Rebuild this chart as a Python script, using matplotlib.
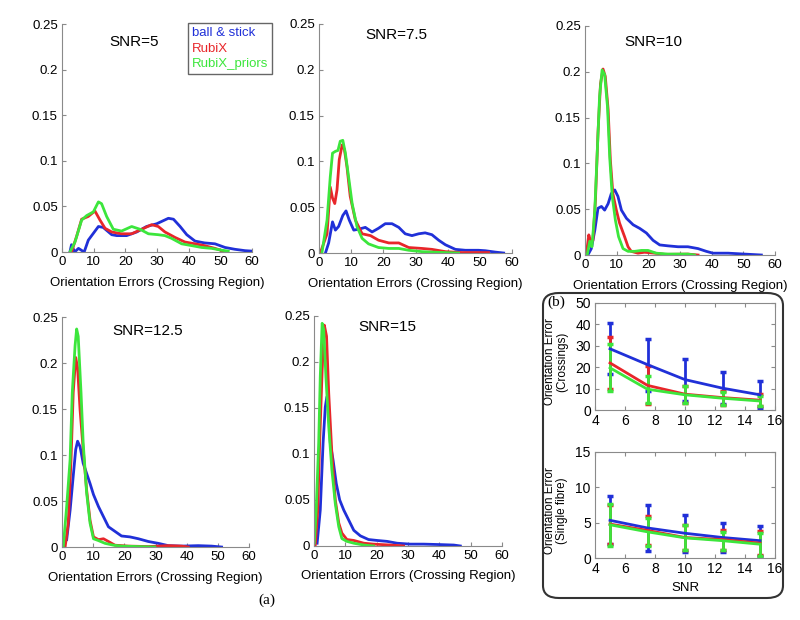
import matplotlib
matplotlib.use("Agg")
import matplotlib.pyplot as plt
from matplotlib.patches import FancyBboxPatch

plt.rcParams['font.family'] = ['Liberation Sans', 'DejaVu Sans']

# colores de las tres curvas
azul = '#2030d8'
rojo = '#e8262a'
verde = '#3ce63c'
metodos = ['ball & stick', 'RubiX', 'RubiX_priors']

# ---- histogramas de errores (grados, densidad) ----
# SNR=5
bs5_x = [2.5, 3, 4, 5.2, 7, 8.3, 11.5, 13, 15.7, 17.3, 20.4, 23.6, 26.7, 29.9, 33.6, 35.2, 37.3, 39.4, 42, 45, 48.3, 51.5, 54.6, 57.8, 60]
bs5_y = [0, 0.008, 0, 0.004, 0, 0.013, 0.028, 0.027, 0.019, 0.018, 0.018, 0.022, 0.028, 0.031, 0.037, 0.036, 0.028, 0.019, 0.012, 0.010, 0.009, 0.005, 0.003, 0.0015, 0.001]
rx5_x = [3, 4.6, 6.2, 8.3, 10.4, 12, 13.6, 15.7, 18.8, 22, 25.2, 28.3, 30.4, 32.5, 35.7, 38.8, 42, 45, 48.3, 51]
rx5_y = [0, 0.017, 0.036, 0.039, 0.045, 0.035, 0.026, 0.022, 0.020, 0.020, 0.025, 0.030, 0.028, 0.022, 0.016, 0.011, 0.009, 0.007, 0.004, 0.001]
rp5_x = [2.5, 4.1, 6.2, 7.8, 9.9, 11.5, 12.5, 14.1, 16.2, 18.8, 22, 24.6, 27.3, 30.4, 32.5, 34.6, 37.8, 41, 44.1, 47.3, 50.4, 52.5]
rp5_y = [0, 0.011, 0.035, 0.040, 0.044, 0.055, 0.053, 0.039, 0.025, 0.023, 0.028, 0.025, 0.020, 0.019, 0.018, 0.015, 0.009, 0.007, 0.005, 0.004, 0.002, 0.001]

# SNR=7.5
bs75_x = [2, 3, 4.2, 5.1, 6.1, 7.4, 8.4, 9.4, 10.8, 12.3, 14.4, 16.5, 18.5, 20.6, 22.7, 24.8, 26.8, 28.9, 31, 33, 35.1, 37.2, 39.3, 42.4, 45.5, 49.6, 51.7, 54.8, 57.4]
bs75_y = [0, 0.011, 0.034, 0.025, 0.029, 0.041, 0.046, 0.036, 0.025, 0.026, 0.028, 0.023, 0.027, 0.032, 0.032, 0.028, 0.021, 0.019, 0.021, 0.022, 0.020, 0.014, 0.009, 0.004, 0.003, 0.003, 0.0025, 0.001, 0]
rx75_x = [0.4, 2.5, 3.5, 4.2, 4.9, 5.6, 6.3, 7.2, 7.9, 8.7, 9.7, 11.3, 13.4, 16, 18.5, 21.7, 24.8, 27.9, 32, 35.1, 39.3, 44.5, 52.7]
rx75_y = [0, 0.021, 0.072, 0.060, 0.054, 0.069, 0.102, 0.118, 0.113, 0.094, 0.062, 0.036, 0.021, 0.019, 0.014, 0.011, 0.011, 0.006, 0.005, 0.004, 0.0015, 0.0005, 0.0005]
rp75_x = [0.9, 2.5, 3.5, 4.2, 5.1, 5.9, 6.6, 7.4, 8.2, 9.2, 10.3, 11.8, 13.4, 15.4, 18.5, 21.7, 24.8, 27.9, 32, 37.2, 43.4]
rp75_y = [0, 0.036, 0.083, 0.109, 0.111, 0.112, 0.122, 0.123, 0.109, 0.083, 0.054, 0.029, 0.016, 0.010, 0.006, 0.005, 0.005, 0.003, 0.0015, 0.0007, 0]

# SNR=10
bs10_x = [0.9, 2, 3.1, 4.1, 5.2, 6.2, 7.3, 8.3, 9.4, 10.4, 11.5, 13.1, 15.2, 17.3, 19.4, 21.5, 23.6, 26.2, 29.4, 32.5, 35.7, 38.3, 40.4, 45.2, 50.4, 55.7]
bs10_y = [0, 0.007, 0.027, 0.051, 0.053, 0.049, 0.056, 0.067, 0.071, 0.064, 0.049, 0.040, 0.033, 0.029, 0.024, 0.016, 0.011, 0.010, 0.009, 0.009, 0.007, 0.004, 0.002, 0.002, 0.001, 0]
rx10_x = [0.4, 1.2, 1.8, 2.5, 3.3, 4.1, 4.9, 5.7, 6.4, 7.3, 8, 8.8, 9.9, 10.9, 12.5, 13.6, 14.6, 16.7, 18.8, 22, 25.2, 32.5, 35.7]
rx10_y = [0, 0.022, 0.015, 0.016, 0.060, 0.133, 0.187, 0.203, 0.195, 0.159, 0.104, 0.067, 0.049, 0.035, 0.020, 0.009, 0.004, 0.002, 0.003, 0.002, 0.0007, 0.001, 0]
rp10_x = [0.7, 1.5, 2.2, 3.1, 3.9, 4.6, 5.4, 6.2, 7.1, 7.8, 8.6, 9.6, 10.6, 12, 13.6, 15.7, 17.8, 19.9, 22.5, 26.2, 32.5, 34.6]
rp10_y = [0, 0.015, 0.009, 0.049, 0.115, 0.173, 0.202, 0.197, 0.162, 0.107, 0.064, 0.038, 0.020, 0.007, 0.004, 0.004, 0.005, 0.005, 0.002, 0.001, 0.001, 0]

# SNR=12.5
bs125_x = [1.5, 2.6, 3.6, 4.4, 5, 5.8, 6.8, 7.9, 9, 10.1, 11.7, 13.3, 14.9, 17, 19.1, 21.8, 24.5, 27.7, 30.9, 34.1, 38.4, 43.7, 48, 51.2]
bs125_y = [0.008, 0.040, 0.077, 0.106, 0.115, 0.109, 0.091, 0.080, 0.069, 0.057, 0.044, 0.033, 0.022, 0.017, 0.012, 0.011, 0.009, 0.006, 0.004, 0.0015, 0.001, 0.0015, 0.001, 0]
rx125_x = [1, 2, 2.9, 3.6, 4.4, 5, 5.8, 6.8, 7.9, 9, 10.1, 11.7, 13.3, 14.9, 17, 21.3, 27.7, 34.1, 38.4, 40.5]
rx125_y = [0, 0.026, 0.095, 0.168, 0.206, 0.195, 0.149, 0.106, 0.062, 0.029, 0.011, 0.008, 0.009, 0.006, 0.002, 0.001, 0.0005, 0.0015, 0.001, 0]
rp125_x = [0.4, 1.5, 2.6, 3.3, 4.2, 4.7, 5.2, 6.1, 6.8, 7.9, 9, 10.1, 11.7, 13.8, 16.5, 19.1, 24.5, 29.8]
rp125_y = [0, 0.044, 0.095, 0.168, 0.219, 0.237, 0.229, 0.168, 0.113, 0.059, 0.026, 0.009, 0.007, 0.004, 0.002, 0.001, 0.0005, 0]

# SNR=15
bs15_x = [1, 2, 2.9, 3.6, 4.1, 4.7, 5.2, 6.1, 7.1, 8.2, 9.5, 11.1, 12.7, 14.8, 17.4, 20.1, 23.3, 26.5, 30.7, 35, 40.3, 44.6, 46.7]
bs15_y = [0.003, 0.039, 0.112, 0.151, 0.162, 0.148, 0.112, 0.093, 0.068, 0.050, 0.039, 0.028, 0.017, 0.011, 0.007, 0.006, 0.005, 0.003, 0.002, 0.002, 0.0015, 0.001, 0]
rx15_x = [0.4, 1.2, 1.8, 2.6, 3.3, 4, 4.7, 5.7, 6.8, 7.9, 8.9, 10.5, 12.7, 15.9, 19, 24.4, 28.6]
rx15_y = [0.001, 0.039, 0.112, 0.191, 0.240, 0.228, 0.166, 0.101, 0.050, 0.025, 0.014, 0.007, 0.006, 0.003, 0.002, 0.001, 0]
rp15_x = [0.1, 0.7, 1.5, 2, 2.6, 3.1, 3.8, 4.7, 5.7, 6.8, 7.9, 8.9, 10.5, 12.7, 15.9, 19]
rp15_y = [0.003, 0.039, 0.112, 0.184, 0.242, 0.235, 0.184, 0.130, 0.083, 0.046, 0.021, 0.008, 0.005, 0.003, 0.001, 0]

# ---- panel (b): error medio vs SNR ----
snr = [5, 7.5, 10, 12.5, 15]
cruce_bs = [28.6, 21.2, 14.2, 10.2, 7.1]
cruce_bs_err = [12.0, 12.1, 9.8, 7.4, 6.3]
cruce_rx = [22.0, 11.5, 7.4, 5.8, 4.6]
cruce_rx_err = [12.3, 8.9, 4.0, 3.3, 2.8]
cruce_rp = [19.7, 9.7, 7.1, 5.5, 4.2]
cruce_rp_err = [11.0, 6.3, 3.9, 3.1, 2.4]
simple_bs = [5.33, 4.25, 3.5, 2.9, 2.45]
simple_bs_err = [3.4, 3.3, 2.6, 2.0, 2.1]
simple_rx = [4.8, 3.9, 2.9, 2.6, 2.1]
simple_rx_err = [2.75, 2.1, 1.8, 1.4, 1.7]
simple_rp = [4.7, 3.7, 2.85, 2.45, 1.95]
simple_rp_err = [2.95, 1.95, 1.75, 1.25, 1.6]

histos = [
    ('SNR=5', [0.0775, 0.5935, 0.2375, 0.3677], (0.38, 0.92),
     [(bs5_x, bs5_y), (rx5_x, rx5_y), (rp5_x, rp5_y)]),
    ('SNR=7.5', [0.39875, 0.5919, 0.24125, 0.3694], (0.40, 0.95),
     [(bs75_x, bs75_y), (rx75_x, rx75_y), (rp75_x, rp75_y)]),
    ('SNR=10', [0.73125, 0.5887, 0.2375, 0.3694], (0.36, 0.93),
     [(bs10_x, bs10_y), (rx10_x, rx10_y), (rp10_x, rp10_y)]),
    ('SNR=12.5', [0.0775, 0.1177, 0.23375, 0.371], (0.46, 0.94),
     [(bs125_x, bs125_y), (rx125_x, rx125_y), (rp125_x, rp125_y)]),
    ('SNR=15', [0.3925, 0.1194, 0.235, 0.371], (0.39, 0.95),
     [(bs15_x, bs15_y), (rx15_x, rx15_y), (rp15_x, rp15_y)]),
]

colores = [azul, rojo, verde]
gris = '#8a8a8a'

fig = plt.figure(figsize=(8, 6.2), dpi=100)

ax1 = None
for titulo, pos, tpos, curvas in histos:
    ax = fig.add_axes(pos)
    for (xs, ys), c, nombre in zip(curvas, colores, metodos):
        ax.plot(xs, ys, color=c, lw=2.0, label=nombre)
    ax.set_xlim(0, 60)
    ax.set_ylim(0, 0.25)
    ax.set_xticks([0, 10, 20, 30, 40, 50, 60])
    ax.set_yticks([0, 0.05, 0.1, 0.15, 0.2, 0.25])
    ax.set_yticklabels(['0', '0.05', '0.1', '0.15', '0.2', '0.25'])
    for s in ['top', 'right']:
        ax.spines[s].set_visible(False)
    for s in ['left', 'bottom']:
        ax.spines[s].set_color(gris)
    ax.tick_params(direction='in', length=3, color=gris, labelsize=9.5, pad=3)
    ax.set_xlabel('Orientation Errors (Crossing Region)', fontsize=9.5, labelpad=6)
    ax.text(tpos[0], tpos[1], titulo, transform=ax.transAxes, ha='center', va='center', fontsize=11)
    if ax1 is None:
        ax1 = ax

# leyenda con texto coloreado, sin muestras de linea
leg = ax1.legend(loc='upper left', bbox_to_anchor=(188 / 800, 1 - 23 / 620), bbox_transform=fig.transFigure,
                 handlelength=0, handletextpad=0, fancybox=False, edgecolor='#666666', fontsize=9.5,
                 borderpad=0.3, labelspacing=0.25, borderaxespad=0, framealpha=1)
leg.get_frame().set_linewidth(1.0)
for txt, h, c in zip(leg.get_texts(), leg.legend_handles, colores):
    txt.set_color(c)
    h.set_visible(False)

# ---- panel (b) ----
caja = FancyBboxPatch((543 / 800, 1 - 598 / 620), 240 / 800, 305 / 620,
                      boxstyle='round,pad=0,rounding_size=0.02', transform=fig.transFigure,
                      fill=False, edgecolor='#333333', linewidth=1.5)
fig.patches.append(caja)
fig.text(556 / 800, 1 - 302 / 620, '(b)', fontsize=11, family=['Liberation Serif'], ha='center', va='center')
fig.text(267 / 800, 1 - 600 / 620, '(a)', fontsize=11, family=['Liberation Serif'], ha='center', va='center')

def panel_b(pos, series, ylim, yticks, ylabel, xlabel=None):
    ax = fig.add_axes(pos)
    for (m, e), c in zip(series, colores):
        ax.errorbar(snr, m, yerr=e, color=c, lw=2.0, elinewidth=2.0, capsize=2, capthick=2.5)
    ax.set_xlim(4, 16)
    ax.set_ylim(*ylim)
    ax.set_xticks([4, 6, 8, 10, 12, 14, 16])
    ax.set_yticks(yticks)
    for s in ax.spines.values():
        s.set_color(gris)
    ax.tick_params(direction='in', length=3, color=gris, labelsize=10, top=True, right=True, pad=3)
    ax.set_ylabel(ylabel, fontsize=8.5, labelpad=3, linespacing=1.0)
    ax.yaxis.set_label_coords(-0.15, 0.45)
    if xlabel:
        ax.set_xlabel(xlabel, fontsize=9.5, labelpad=4)
    return ax

panel_b([0.74375, 0.3387, 0.225, 0.1726],
        [(cruce_bs, cruce_bs_err), (cruce_rx, cruce_rx_err), (cruce_rp, cruce_rp_err)],
        (0, 50), [0, 10, 20, 30, 40, 50], 'Orientation Error\n(Crossings)')
panel_b([0.74375, 0.1, 0.225, 0.171],
        [(simple_bs, simple_bs_err), (simple_rx, simple_rx_err), (simple_rp, simple_rp_err)],
        (0, 15), [0, 5, 10, 15], 'Orientation Error\n(Single fibre)', 'SNR')

fig.savefig('out.png', dpi=100)
